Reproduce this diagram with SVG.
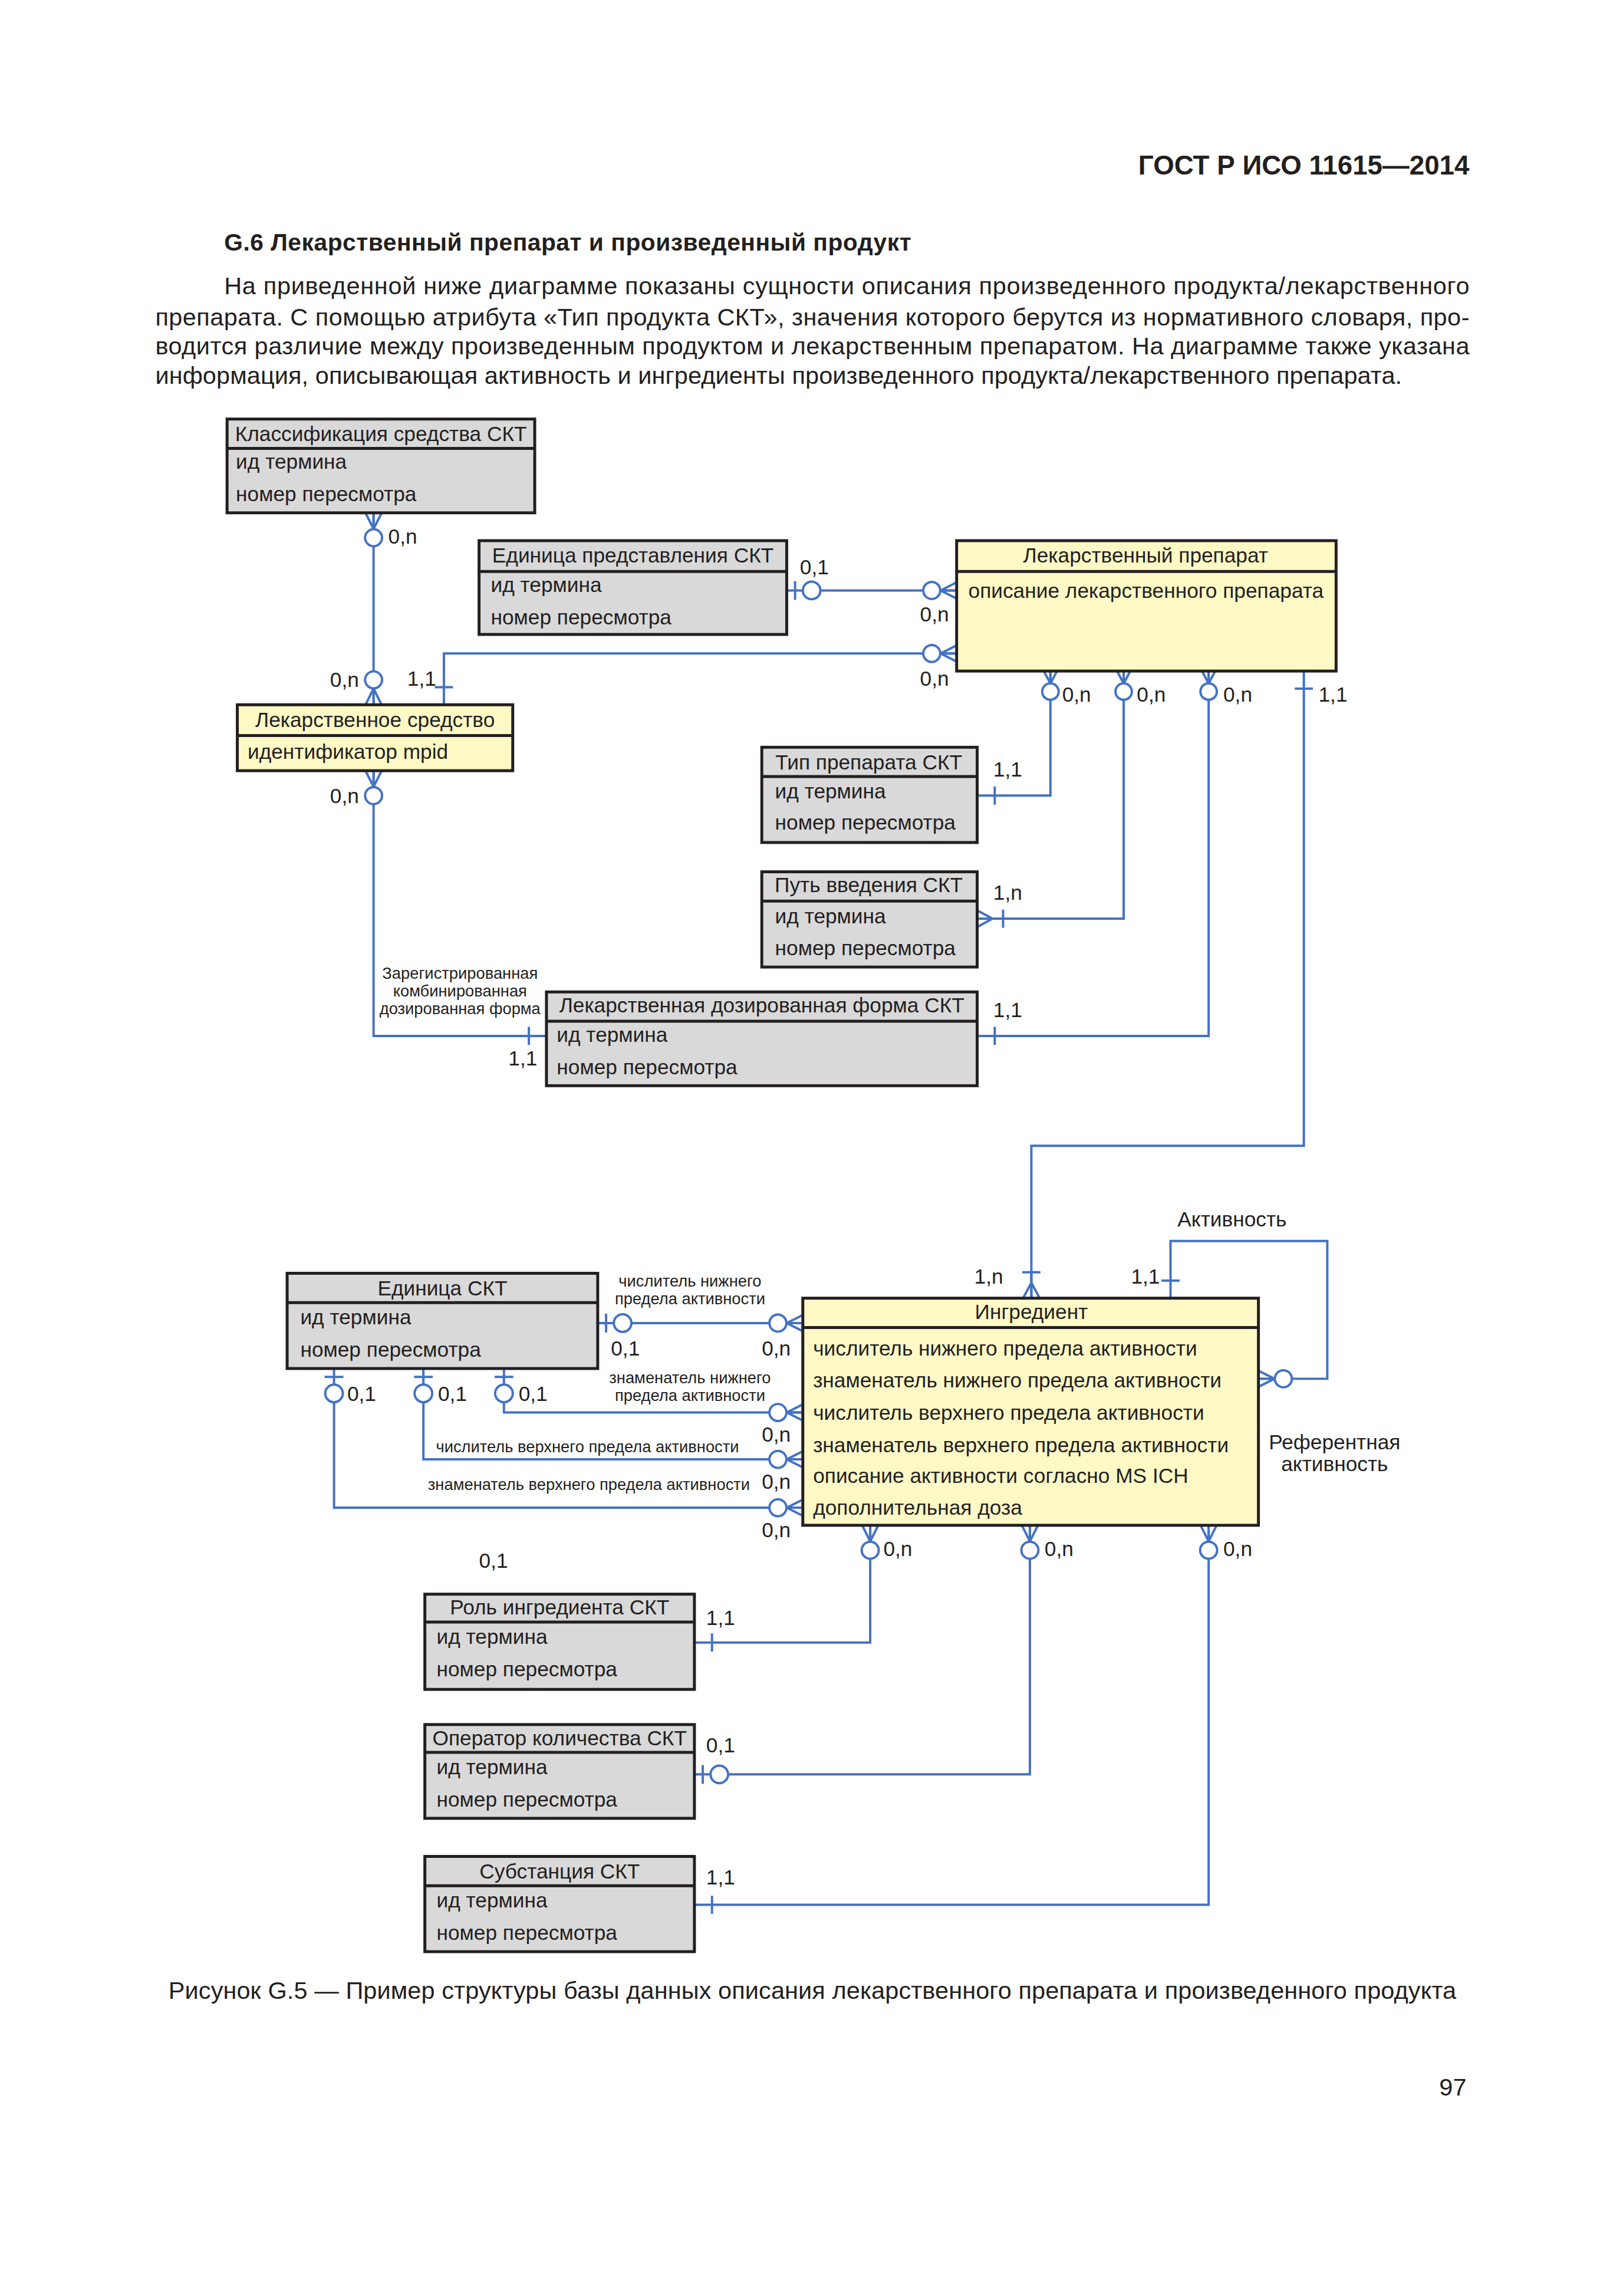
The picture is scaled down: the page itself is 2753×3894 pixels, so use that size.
<svg xmlns="http://www.w3.org/2000/svg" width="2753" height="3894" viewBox="0 0 2753 3894">
<style>
text{font-family:"Liberation Sans",Arial,sans-serif;fill:#231f20}
.t{font-size:14.2px}
.h{font-size:14.2px;text-anchor:middle}
.sm{font-size:11px;text-anchor:middle}
.p{font-size:16.7px}
.box rect{stroke:#231f20;stroke-width:2}
.box line{stroke:#231f20;stroke-width:2}
.g rect{fill:#d9d9d9}
.y rect{fill:#fff9c6}
.ln{fill:none;stroke:#4472c4;stroke-width:1.6}
</style>
<defs>
<g id="crowO" fill="none" stroke="#4472c4" stroke-width="1.6"><path d="M0,-5.5L11,0M0,5.5L11,0M0,0H11"/><circle cx="17" cy="0" r="5.8" fill="#fff"/></g>
<g id="crowOs" fill="none" stroke="#4472c4" stroke-width="1.6"><path d="M0,-4.5L8.5,0M0,4.5L8.5,0M0,0H8.5"/><circle cx="14" cy="0" r="5.6" fill="#fff"/></g>
<g id="crowBar" fill="none" stroke="#4472c4" stroke-width="1.6"><path d="M0,-5.7L10.5,0M0,5.7L10.5,0M0,0H17.7M17.7,-6.2V6.2"/></g>
<g id="bar" fill="none" stroke="#4472c4" stroke-width="1.6"><path d="M12,-6.2V6.2"/></g>
<g id="barO" fill="none" stroke="#4472c4" stroke-width="1.6"><path d="M5.7,-6.4V6.4"/><circle cx="17" cy="0" r="6" fill="#fff"/></g>
</defs>
<rect x="0" y="0" width="2753" height="3894" fill="#fff"/>
<g transform="scale(2.485)">
<g id="page-text">
<text x="1003" y="119" style="font-size:18.4px;font-weight:bold;text-anchor:end">ГОСТ Р ИСО 11615—2014</text>
<text x="153" y="171" style="font-size:16.4px;font-weight:bold" textLength="469">G.6 Лекарственный препарат и произведенный продукт</text>
<text class="p" x="153" y="201" textLength="850">На приведенной ниже диаграмме показаны сущности описания произведенного продукта/лекарственного</text>
<text class="p" x="106" y="222" textLength="897">препарата. С помощью атрибута «Тип продукта СКТ», значения которого берутся из нормативного словаря, про-</text>
<text class="p" x="106" y="242" textLength="897">водится различие между произведенным продуктом и лекарственным препаратом. На диаграмме также указана</text>
<text class="p" x="106" y="262" textLength="851">информация, описывающая активность и ингредиенты произведенного продукта/лекарственного препарата.</text>
<text class="p" x="115" y="1364" textLength="879">Рисунок G.5 — Пример структуры базы данных описания лекарственного препарата и произведенного продукта</text>
<text class="p" x="1001" y="1430" style="text-anchor:end">97</text>
</g>

<g id="connectors">
<path class="ln" d="M255,350V481"/>
<use href="#crowO" transform="translate(255,350) rotate(90)"/>
<use href="#crowO" transform="translate(255,481) rotate(-90)"/>
<path class="ln" d="M537,403H653"/>
<use href="#barO" transform="translate(537,403)"/>
<use href="#crowO" transform="translate(653,403) rotate(180)"/>
<path class="ln" d="M303,481V446H653"/>
<use href="#bar" transform="translate(303,481) rotate(-90)"/>
<use href="#crowO" transform="translate(653,446) rotate(180)"/>
<path class="ln" d="M717,458V543H667"/>
<use href="#crowOs" transform="translate(717,458) rotate(90)"/>
<use href="#bar" transform="translate(667,543)"/>
<path class="ln" d="M767,458V627H667"/>
<use href="#crowOs" transform="translate(767,458) rotate(90)"/>
<use href="#crowBar" transform="translate(667,627)"/>
<path class="ln" d="M825,458V707H667"/>
<use href="#crowOs" transform="translate(825,458) rotate(90)"/>
<use href="#bar" transform="translate(667,707)"/>
<path class="ln" d="M890,458V782H704V886"/>
<use href="#bar" transform="translate(890,458) rotate(90)"/>
<use href="#crowBar" transform="translate(704,886) rotate(-90)"/>
<path class="ln" d="M255,526V707H373"/>
<use href="#crowO" transform="translate(255,526) rotate(90)"/>
<use href="#bar" transform="translate(373,707) rotate(180)"/>
<path class="ln" d="M799,886V847H906V941H859"/>
<use href="#bar" transform="translate(799,886) rotate(-90)"/>
<use href="#crowO" transform="translate(859,941)"/>
<path class="ln" d="M408,903H548"/>
<use href="#barO" transform="translate(408,903)"/>
<use href="#crowO" transform="translate(548,903) rotate(180)"/>
<path class="ln" d="M344,934V964H548"/>
<use href="#barO" transform="translate(344,934) rotate(90)"/>
<use href="#crowO" transform="translate(548,964) rotate(180)"/>
<path class="ln" d="M289,934V996H548"/>
<use href="#barO" transform="translate(289,934) rotate(90)"/>
<use href="#crowO" transform="translate(548,996) rotate(180)"/>
<path class="ln" d="M228,934V1029H548"/>
<use href="#barO" transform="translate(228,934) rotate(90)"/>
<use href="#crowO" transform="translate(548,1029) rotate(180)"/>
<path class="ln" d="M594,1041V1121H474"/>
<use href="#crowO" transform="translate(594,1041) rotate(90)"/>
<use href="#bar" transform="translate(474,1121)"/>
<path class="ln" d="M703,1041V1211H474"/>
<use href="#crowO" transform="translate(703,1041) rotate(90)"/>
<use href="#barO" transform="translate(474,1211)"/>
<path class="ln" d="M825,1041V1300H474"/>
<use href="#crowO" transform="translate(825,1041) rotate(90)"/>
<use href="#bar" transform="translate(474,1300)"/>
</g>

<g id="connector-labels">
<text class="t" x="265" y="371">0,n</text>
<text class="t" x="245" y="469" style="text-anchor:end">0,n</text>
<text class="t" x="546" y="392">0,1</text>
<text class="t" x="628" y="424">0,n</text>
<text class="t" x="278" y="468">1,1</text>
<text class="t" x="628" y="468">0,n</text>
<text class="t" x="725" y="479">0,n</text>
<text class="t" x="776" y="479">0,n</text>
<text class="t" x="835" y="479">0,n</text>
<text class="t" x="900" y="479">1,1</text>
<text class="t" x="678" y="530">1,1</text>
<text class="t" x="678" y="614">1,n</text>
<text class="t" x="678" y="694">1,1</text>
<text class="t" x="245" y="548" style="text-anchor:end">0,n</text>
<text class="t" x="347" y="727">1,1</text>
<text class="sm" x="314" y="668">Зарегистрированная</text>
<text class="sm" x="314" y="680">комбинированная</text>
<text class="sm" x="314" y="692">дозированная форма</text>
<text class="t" x="665" y="876">1,n</text>
<text class="t" x="772" y="876">1,1</text>
<text class="h" x="841" y="837">Активность</text>
<text class="h" x="911" y="989">Референтная</text>
<text class="h" x="911" y="1004">активность</text>
<text class="sm" x="471" y="878">числитель нижнего</text>
<text class="sm" x="471" y="890">предела активности</text>
<text class="t" x="417" y="925">0,1</text>
<text class="t" x="520" y="925">0,n</text>
<text class="sm" x="471" y="944">знаменатель нижнего</text>
<text class="sm" x="471" y="956">предела активности</text>
<text class="t" x="237" y="956">0,1</text>
<text class="t" x="299" y="956">0,1</text>
<text class="t" x="354" y="956">0,1</text>
<text class="t" x="520" y="984">0,n</text>
<text class="sm" x="401" y="991">числитель верхнего предела активности</text>
<text class="t" x="520" y="1016">0,n</text>
<text class="sm" x="402" y="1017">знаменатель верхнего предела активности</text>
<text class="t" x="520" y="1049">0,n</text>
<text class="t" x="327" y="1070">0,1</text>
<text class="t" x="603" y="1062">0,n</text>
<text class="t" x="713" y="1062">0,n</text>
<text class="t" x="835" y="1062">0,n</text>
<text class="t" x="482" y="1109">1,1</text>
<text class="t" x="482" y="1196">0,1</text>
<text class="t" x="482" y="1286">1,1</text>
</g>

<g id="n-klass" class="box g"><rect x="155" y="286" width="210" height="64"/><line x1="155" y1="306" x2="365" y2="306"/>
<text class="h" x="260" y="301">Классификация средства СКТ</text><text class="t" x="161" y="320">ид термина</text><text class="t" x="161" y="342">номер пересмотра</text></g>

<g id="n-edpred" class="box g"><rect x="327" y="369" width="210" height="64"/><line x1="327" y1="390" x2="537" y2="390"/>
<text class="h" x="432" y="384">Единица представления СКТ</text><text class="t" x="335" y="404">ид термина</text><text class="t" x="335" y="426">номер пересмотра</text></g>

<g id="n-lekprep" class="box y"><rect x="653" y="369" width="259" height="89"/><line x1="653" y1="390" x2="912" y2="390"/>
<text class="h" x="782" y="384">Лекарственный препарат</text><text class="t" x="661" y="408">описание лекарственного препарата</text></g>

<g id="n-leksr" class="box y"><rect x="162" y="481" width="188" height="45"/><line x1="162" y1="502" x2="350" y2="502"/>
<text class="h" x="256" y="496">Лекарственное средство</text><text class="t" x="169" y="518">идентификатор mpid</text></g>

<g id="n-tip" class="box g"><rect x="520" y="510" width="147" height="65"/><line x1="520" y1="530" x2="667" y2="530"/>
<text class="h" x="593" y="525">Тип препарата СКТ</text><text class="t" x="529" y="545">ид термина</text><text class="t" x="529" y="566">номер пересмотра</text></g>

<g id="n-put" class="box g"><rect x="520" y="595" width="147" height="65"/><line x1="520" y1="615" x2="667" y2="615"/>
<text class="h" x="593" y="609">Путь введения СКТ</text><text class="t" x="529" y="630">ид термина</text><text class="t" x="529" y="652">номер пересмотра</text></g>

<g id="n-ldf" class="box g"><rect x="373" y="677" width="294" height="64"/><line x1="373" y1="697" x2="667" y2="697"/>
<text class="h" x="520" y="691">Лекарственная дозированная форма СКТ</text><text class="t" x="380" y="711">ид термина</text><text class="t" x="380" y="733">номер пересмотра</text></g>

<g id="n-edskt" class="box g"><rect x="196" y="869" width="212" height="65"/><line x1="196" y1="889" x2="408" y2="889"/>
<text class="h" x="302" y="884">Единица СКТ</text><text class="t" x="205" y="904">ид термина</text><text class="t" x="205" y="926">номер пересмотра</text></g>

<g id="n-ingr" class="box y"><rect x="548" y="886" width="311" height="155"/><line x1="548" y1="906" x2="859" y2="906"/>
<text class="h" x="704" y="900">Ингредиент</text>
<text class="t" x="555" y="925">числитель нижнего предела активности</text>
<text class="t" x="555" y="947">знаменатель нижнего предела активности</text>
<text class="t" x="555" y="969">числитель верхнего предела активности</text>
<text class="t" x="555" y="991">знаменатель верхнего предела активности</text>
<text class="t" x="555" y="1012">описание активности согласно MS ICH</text>
<text class="t" x="555" y="1034">дополнительная доза</text></g>

<g id="n-rol" class="box g"><rect x="290" y="1088" width="184" height="65"/><line x1="290" y1="1107" x2="474" y2="1107"/>
<text class="h" x="382" y="1102">Роль ингредиента СКТ</text><text class="t" x="298" y="1122">ид термина</text><text class="t" x="298" y="1144">номер пересмотра</text></g>

<g id="n-oper" class="box g"><rect x="290" y="1177" width="184" height="64"/><line x1="290" y1="1196" x2="474" y2="1196"/>
<text class="h" x="382" y="1191">Оператор количества СКТ</text><text class="t" x="298" y="1211">ид термина</text><text class="t" x="298" y="1233">номер пересмотра</text></g>

<g id="n-subst" class="box g"><rect x="290" y="1267" width="184" height="65"/><line x1="290" y1="1287" x2="474" y2="1287"/>
<text class="h" x="382" y="1282">Субстанция СКТ</text><text class="t" x="298" y="1302">ид термина</text><text class="t" x="298" y="1324">номер пересмотра</text></g>
</g>
</svg>
